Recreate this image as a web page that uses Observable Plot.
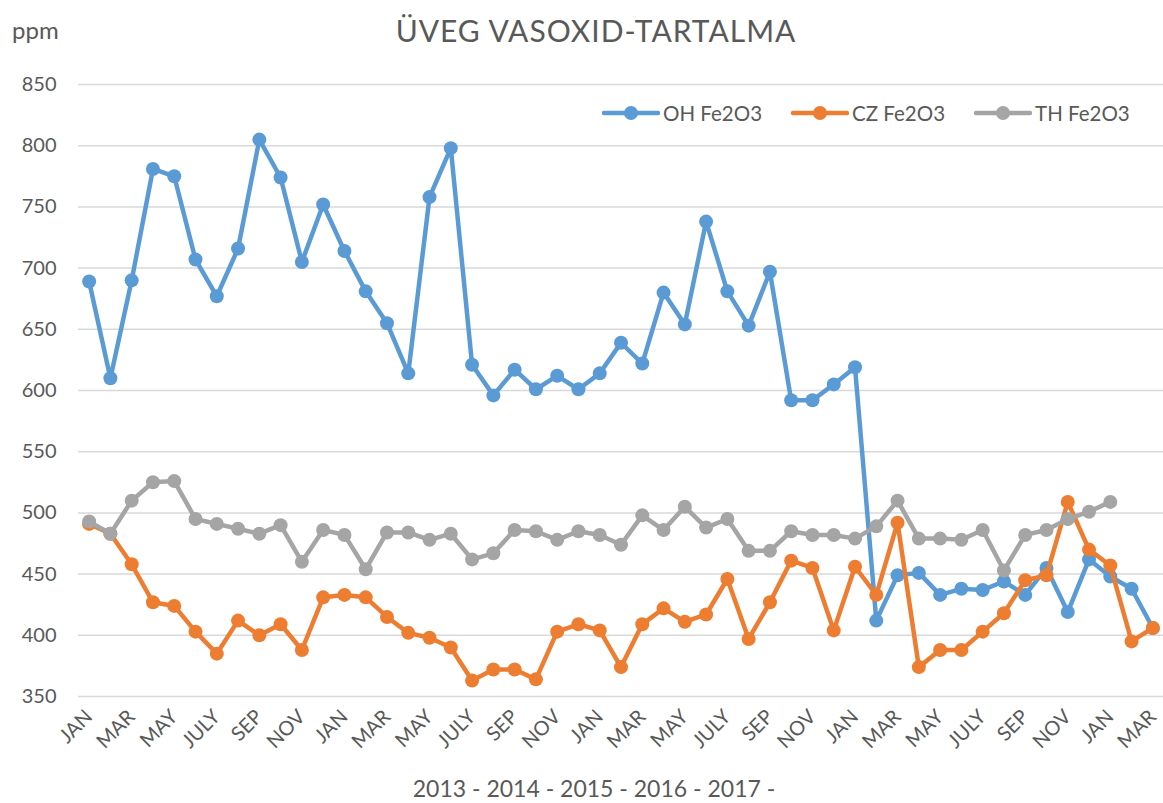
<!DOCTYPE html>
<html>
<head>
<meta charset="utf-8">
<script src="https://cdn.jsdelivr.net/npm/d3@7"></script>
<script src="https://cdn.jsdelivr.net/npm/@observablehq/plot@0.6"></script>
<style>
  html, body { margin: 0; padding: 0; background: #fff; }
  #wrap { position: relative; width: 1163px; height: 803px; font-family: Lato, "Open Sans", sans-serif; color: #595959; }
  #wrap svg.chart { position: absolute; left: 0; top: 0; }
  .ovl { position: absolute; white-space: nowrap; line-height: 1; }
  #title { left: 0; width: 1192px; top: 15px; text-align: center; font-size: 30px; letter-spacing: 1px; }
  #ppm { left: 12px; top: 18px; font-size: 24px; }
  #xtitle { left: 0; width: 1188px; top: 777px; text-align: center; font-size: 23px; }
  #legend { left: 602px; top: 103px; display: flex; align-items: center; font-size: 20.5px; }
  .item { display: flex; align-items: center; }
  .item svg { display: block; }
</style>
</head>
<body>
<div id="wrap">
  <div id="title" class="ovl"></div>
  <div id="ppm" class="ovl"></div>
  <div id="xtitle" class="ovl"></div>
  <div id="legend" class="ovl"></div>
</div>
<script>
// ---- data ----
const months = ["JAN","FEB","MAR","APR","MAY","JUNE","JULY","AUG","SEP","OCT","NOV","DEC"];
const years = [2013, 2014, 2015, 2016, 2017];
const seriesNames = ["OH Fe2O3", "CZ Fe2O3", "TH Fe2O3"];
const seriesColors = ["#5B9BD5", "#ED7D31", "#A5A5A5"];
const yTicks = [350, 400, 450, 500, 550, 600, 650, 700, 750, 800, 850];
const titleText = "ÜVEG VASOXID-TARTALMA";
const unitText = "ppm";

const ohValues = [689,610,690,781,775,707,677,716,805,774,705,752,
                  714,681,655,614,758,798,621,596,617,601,612,601,
                  614,639,622,680,654,738,681,653,697,592,592,605,
                  619,412,449,451,433,438,437,444,433,455,419,462,
                  448,438,406];
const czValues = [491,483,458,427,424,403,385,412,400,409,388,431,
                  433,431,415,402,398,390,363,372,372,364,403,409,
                  404,374,409,422,411,417,446,397,427,461,455,404,
                  456,433,492,374,388,388,403,418,445,449,509,470,
                  457,395,406];
const thValues = [493,483,510,525,526,495,491,487,483,490,460,486,
                  482,454,484,484,478,483,462,467,486,485,478,485,
                  482,474,498,486,505,488,495,469,469,485,482,482,
                  479,489,510,479,479,478,486,453,482,486,495,501,
                  509];

// ---- build ----
const nMonths = ohValues.length;
const allValues = [ohValues, czValues, thValues];
const rows = allValues.map((vals, s) =>
  vals.map((v, i) => ({i, series: seriesNames[s], value: v, month: months[i % 12], year: years[Math.floor(i / 12)]}))
);

const marks = [Plot.gridY(yTicks, {stroke: "#D9D9D9", strokeOpacity: 1, strokeWidth: 1.5})];
rows.forEach((data) => {
  marks.push(Plot.line(data, {x: "i", y: "value", stroke: "series", strokeWidth: 4.5, strokeLinejoin: "round", strokeLinecap: "round"}));
  marks.push(Plot.dot(data, {x: "i", y: "value", fill: "series", r: 7, stroke: "none"}));
});

const chart = Plot.plot({
  width: 1163,
  height: 803,
  marginLeft: 78,
  marginRight: 0,
  marginTop: 84,
  marginBottom: 107,
  style: {fontFamily: "Lato, 'Open Sans', sans-serif", fontSize: "20px", color: "#595959", background: "transparent", overflow: "visible"},
  x: {type: "point", domain: d3.range(nMonths), padding: 0.5, round: false, label: null,
      ticks: d3.range(0, nMonths, 2), tickFormat: (i) => months[i % 12],
      tickRotate: -45, tickSize: 0, tickPadding: 17},
  y: {domain: [350, 850], ticks: yTicks, label: null, tickSize: 0, tickPadding: 22},
  color: {domain: seriesNames, range: seriesColors},
  marks
});
chart.classList.add("chart");
const wrap = document.getElementById("wrap");
wrap.insertBefore(chart, wrap.firstChild);

document.getElementById("title").textContent = titleText;
document.getElementById("ppm").textContent = unitText;
document.getElementById("xtitle").textContent = years.map(y => y + " -").join(" ");

const legend = document.getElementById("legend");
const gaps = [0, 29, 29];
seriesNames.forEach((name, k) => {
  const item = document.createElement("div");
  item.className = "item";
  item.style.marginLeft = gaps[k] + "px";
  item.innerHTML = `<svg width="58" height="20"><line x1="2" y1="10" x2="56" y2="10" stroke="${seriesColors[k]}" stroke-width="4.5" stroke-linecap="round"/><circle cx="29" cy="10" r="7" fill="${seriesColors[k]}"/></svg><span style="margin-left:3px">${name}</span>`;
  legend.appendChild(item);
});
</script>
</body>
</html>
